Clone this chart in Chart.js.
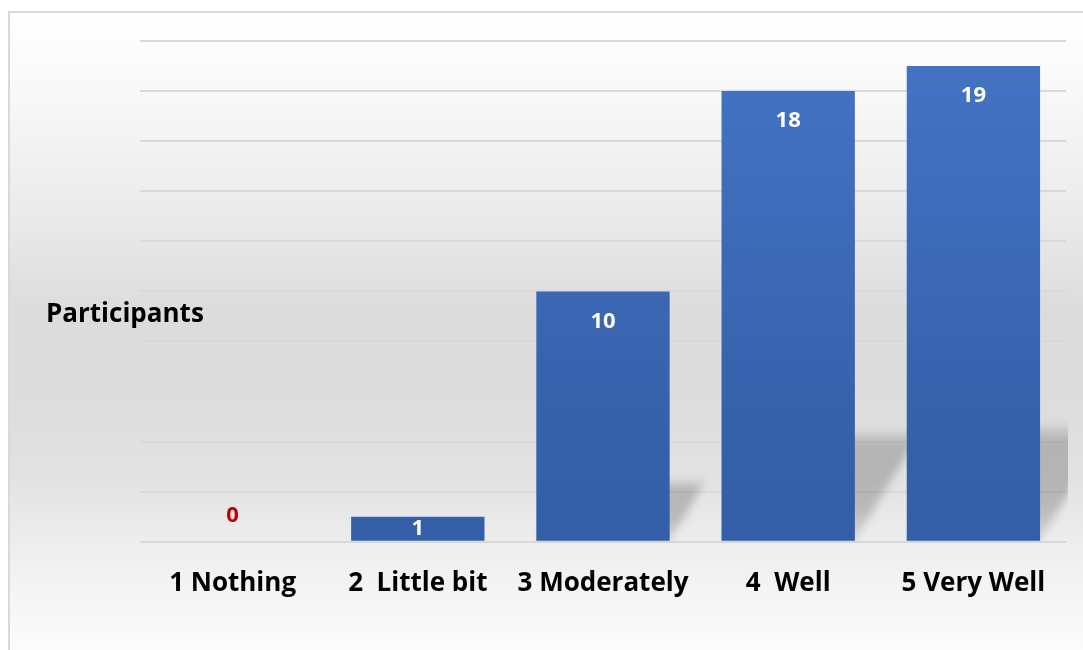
<!DOCTYPE html>
<html>
<head>
<meta charset="utf-8">
<script src="https://cdn.jsdelivr.net/npm/chart.js@4.4.1/dist/chart.umd.min.js"></script>
<style>
    html, body { margin: 0; padding: 0; background: #ffffff; }
    #frame {
        position: absolute; left: 8px; top: 11px; width: 1100px; height: 660px;
        box-sizing: border-box; border: 2px solid #d9d9d9;
        background: linear-gradient(to bottom, #ffffff 0px, #fafafa 60px, #ececec 190px, #dcdcdc 300px,
            #dddddd 400px, #e3e3e3 470px, #efefef 540px, #f7f7f7 600px, #fcfcfc 640px);
    }
    #wrap { position: absolute; left: 0; top: 0; width: 1083px; height: 650px; }
</style>
</head>
<body>
<div id="frame"></div>
<div id="wrap"><canvas id="chart"></canvas></div>
<script>
// Chart data
const categories = ["1 Nothing", "2  Little bit", "3 Moderately", "4  Well", "5 Very Well"];
const participants = [0, 1, 10, 18, 19];
const yMax = 20;
const yStep = 2;
const axisTitle = "Participants";

const FONT = "'Open Sans', Lato, sans-serif";

// Bar fill: blue gradient over the plot height
function barFill(context) {
    const area = context.chart.chartArea;
    if (!area) return "#4472c4";
    const g = context.chart.ctx.createLinearGradient(0, area.top, 0, area.bottom);
    g.addColorStop(0, "#4574c6");
    g.addColorStop(0.75, "#3661ab");
    g.addColorStop(1, "#345fa8");
    return g;
}

// Soft slanted shadow behind each bar
const shadowPlugin = {
    id: "barShadow",
    beforeDatasetsDraw(chart) {
        const ctx = chart.ctx;
        const area = chart.chartArea;
        const meta = chart.getDatasetMeta(0);
        ctx.save();
        ctx.beginPath();
        ctx.rect(area.left, area.top, area.right - area.left + 2, area.bottom - area.top);
        ctx.clip();
        ctx.filter = "blur(4px)";
        meta.data.forEach(bar => {
            const h = bar.base - bar.y;
            if (h < 30) return;
            const sh = h * 0.25;
            const skew = sh * 0.6;
            const left = bar.x - bar.width / 2;
            const right = bar.x + bar.width / 2;
            const g = ctx.createLinearGradient(0, bar.base, 0, bar.base - sh);
            g.addColorStop(0, "rgba(0,0,0,0.1)");
            g.addColorStop(0.3, "rgba(0,0,0,0.2)");
            g.addColorStop(0.85, "rgba(0,0,0,0.2)");
            g.addColorStop(1, "rgba(0,0,0,0)");
            ctx.fillStyle = g;
            ctx.beginPath();
            ctx.moveTo(left, bar.base);
            ctx.lineTo(right, bar.base);
            ctx.lineTo(right + skew, bar.base - sh);
            ctx.lineTo(left + skew, bar.base - sh);
            ctx.closePath();
            ctx.fill();
        });
        ctx.restore();
    }
};

// Value labels inside/above bars
const valueLabelPlugin = {
    id: "valueLabels",
    afterDatasetsDraw(chart) {
        const ctx = chart.ctx;
        const meta = chart.getDatasetMeta(0);
        ctx.save();
        ctx.font = "bold 22px " + FONT;
        ctx.textAlign = "center";
        ctx.textBaseline = "middle";
        meta.data.forEach((bar, i) => {
            const v = participants[i];
            const h = bar.base - bar.y;
            let y;
            if (v === 0) {
                ctx.fillStyle = "#c00000";
                y = bar.base - 26;
            } else if (h > 60) {
                ctx.fillStyle = "#ffffff";
                y = bar.y + 30;
            } else {
                ctx.fillStyle = "#ffffff";
                y = (bar.y + bar.base) / 2;
            }
            ctx.fillText(String(v), bar.x, y);
        });
        ctx.restore();
    }
};

// Horizontal axis title on the left
const titlePlugin = {
    id: "sideTitle",
    afterDraw(chart) {
        const ctx = chart.ctx;
        ctx.save();
        ctx.font = "bold 26px " + FONT;
        ctx.fillStyle = "#000000";
        ctx.textAlign = "left";
        ctx.textBaseline = "middle";
        ctx.fillText(axisTitle, 46, 315);
        ctx.restore();
    }
};

new Chart(document.getElementById("chart").getContext("2d"), {
    type: "bar",
    data: {
        labels: categories,
        datasets: [{
            label: axisTitle,
            data: participants,
            backgroundColor: barFill,
            borderWidth: 0,
            barPercentage: 0.72,
            categoryPercentage: 1.0
        }]
    },
    options: {
        responsive: true,
        maintainAspectRatio: false,
        animation: false,
        layout: {
            padding: { left: 140, right: 17, top: 41, bottom: 25 }
        },
        plugins: {
            legend: { display: false },
            tooltip: { enabled: false }
        },
        scales: {
            x: {
                grid: { display: false, drawTicks: false },
                border: { display: false },
                ticks: {
                    color: "#000000",
                    font: { family: FONT, size: 26, weight: "bold" },
                    padding: 26,
                    maxRotation: 0,
                    autoSkip: false
                }
            },
            y: {
                min: 0,
                max: yMax,
                afterFit: scale => { scale.width = 0; },
                grid: { color: "#d9d9d9", lineWidth: 2, drawTicks: false },
                border: { display: false },
                ticks: { display: false, stepSize: yStep }
            }
        }
    },
    plugins: [shadowPlugin, valueLabelPlugin, titlePlugin]
});
</script>
</body>
</html>
